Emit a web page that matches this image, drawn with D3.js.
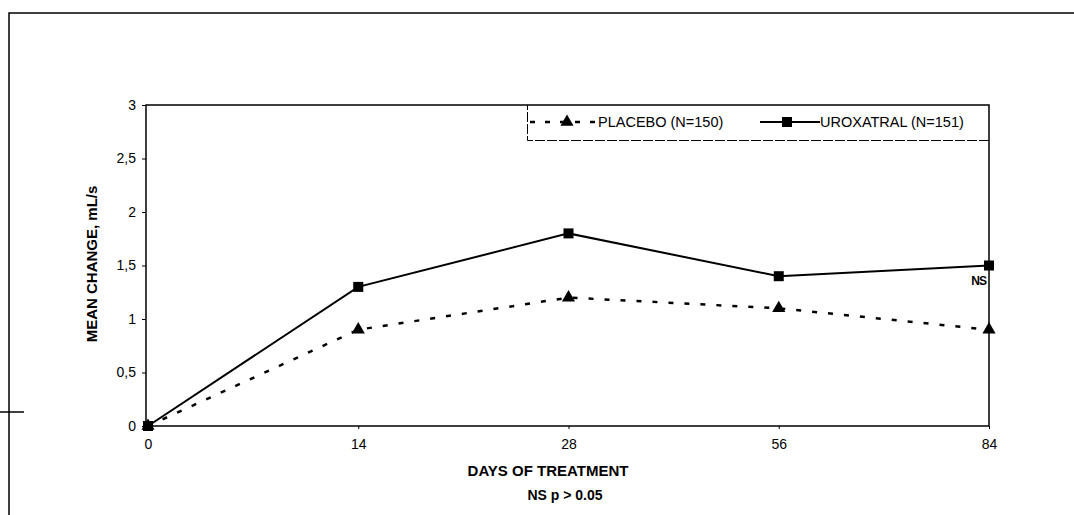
<!DOCTYPE html>
<html>
<head>
<meta charset="utf-8">
<script src="https://cdn.jsdelivr.net/npm/d3@7"></script>
<style>
  body { margin: 0; background: #fff; }
  text { font-family: "Liberation Sans", Arial, sans-serif; fill: #000; }
</style>
</head>
<body>
<div id="chart"></div>
<script>
var days = ["0", "14", "28", "56", "84"];
var placebo = [0, 0.9, 1.2, 1.1, 0.9];
var uroxatral = [0, 1.3, 1.8, 1.4, 1.5];
var yTicks = [0, 0.5, 1, 1.5, 2, 2.5, 3];
var seriesNames = ["PLACEBO (N=150)", "UROXATRAL (N=151)"];

var width = 1074, height = 515;
var svg = d3.select("#chart").append("svg")
    .attr("width", width)
    .attr("height", height);

// outer page frame (scanned)
svg.append("path")
    .attr("d", "M9,515V13H1074")
    .attr("fill", "none").attr("stroke", "#000").attr("stroke-width", 1.5);
svg.append("line")
    .attr("x1", 0).attr("x2", 24).attr("y1", 412).attr("y2", 412)
    .attr("stroke", "#000").attr("stroke-width", 1.5);

var pl = 146, pr = 989, pt = 105, pb = 426;

var x = d3.scalePoint().domain(days).range([pl + 2, pr]);
var y = d3.scaleLinear().domain([0, 3]).range([pb, pt]);

// plot frame
svg.append("rect")
    .attr("x", pl).attr("y", pt)
    .attr("width", pr - pl).attr("height", pb - pt)
    .attr("fill", "none").attr("stroke", "#000").attr("stroke-width", 1.5);

var yAxis = svg.append("g")
    .attr("transform", "translate(" + pl + ",0)")
    .call(d3.axisLeft(y).tickValues(yTicks).tickSize(4).tickPadding(6)
      .tickFormat(function(d) { return String(d).replace(".", ","); }));
yAxis.select(".domain").remove();
yAxis.selectAll("text").style("font-size", "14px").attr("font-family", null);

var xAxis = svg.append("g")
    .attr("transform", "translate(0," + pb + ")")
    .call(d3.axisBottom(x).tickSize(3).tickPadding(10));
xAxis.select(".domain").remove();
xAxis.selectAll("text").style("font-size", "14px").attr("font-family", null);

svg.append("text")
    .attr("transform", "translate(97,264) rotate(-90)")
    .attr("text-anchor", "middle")
    .style("font-size", "15px").style("font-weight", "bold")
    .text("MEAN CHANGE, mL/s");

svg.append("text")
    .attr("x", 548).attr("y", 476)
    .attr("text-anchor", "middle")
    .style("font-size", "15px").style("font-weight", "bold")
    .text("DAYS OF TREATMENT");

svg.append("text")
    .attr("x", 565).attr("y", 500)
    .attr("text-anchor", "middle")
    .style("font-size", "14px").style("font-weight", "bold")
    .text("NS  p > 0.05");

var line = d3.line()
    .x(function(d, i) { return x(days[i]); })
    .y(function(d) { return y(d); });

svg.append("path")
    .datum(placebo)
    .attr("d", line)
    .attr("fill", "none").attr("stroke", "#000")
    .attr("stroke-width", 2.5).attr("stroke-dasharray", "5,11");

svg.append("path")
    .datum(uroxatral)
    .attr("d", line)
    .attr("fill", "none").attr("stroke", "#000").attr("stroke-width", 2);

var tri = d3.symbol().type(d3.symbolTriangle).size(75);

svg.selectAll(".tri")
    .data(placebo)
    .enter().append("path")
    .attr("class", "tri")
    .attr("d", tri)
    .attr("transform", function(d, i) { return "translate(" + x(days[i]) + "," + y(d) + ")"; });

svg.selectAll(".sq")
    .data(uroxatral)
    .enter().append("rect")
    .attr("class", "sq")
    .attr("x", function(d, i) { return x(days[i]) - 5; })
    .attr("y", function(d) { return y(d) - 5; })
    .attr("width", 10).attr("height", 10);

svg.append("text")
    .attr("x", x("84") - 3).attr("y", y(uroxatral[4]) + 19)
    .attr("text-anchor", "end")
    .style("font-size", "12px").style("font-weight", "bold")
    .style("letter-spacing", "-1px")
    .text("NS");

// legend
var lg = svg.append("g");
lg.append("path")
    .attr("d", "M" + pr + ",140.5H527.5V" + pt)
    .attr("fill", "none").attr("stroke", "#000").attr("stroke-width", 1)
    .attr("stroke-dasharray", "10,2");
var ly = 122;
lg.append("line")
    .attr("x1", 530).attr("x2", 595).attr("y1", ly).attr("y2", ly)
    .attr("stroke", "#000").attr("stroke-width", 2.5).attr("stroke-dasharray", "5,10");
lg.append("path").attr("d", tri).attr("transform", "translate(567," + ly + ")");
lg.append("text")
    .attr("x", 598).attr("y", ly + 5)
    .style("font-size", "14.5px")
    .text(seriesNames[0]);
lg.append("line")
    .attr("x1", 760).attr("x2", 820).attr("y1", ly).attr("y2", ly)
    .attr("stroke", "#000").attr("stroke-width", 2);
lg.append("rect")
    .attr("x", 782).attr("y", ly - 5).attr("width", 10).attr("height", 10);
lg.append("text")
    .attr("x", 820).attr("y", ly + 5)
    .style("font-size", "14.5px")
    .text(seriesNames[1]);
</script>
</body>
</html>
